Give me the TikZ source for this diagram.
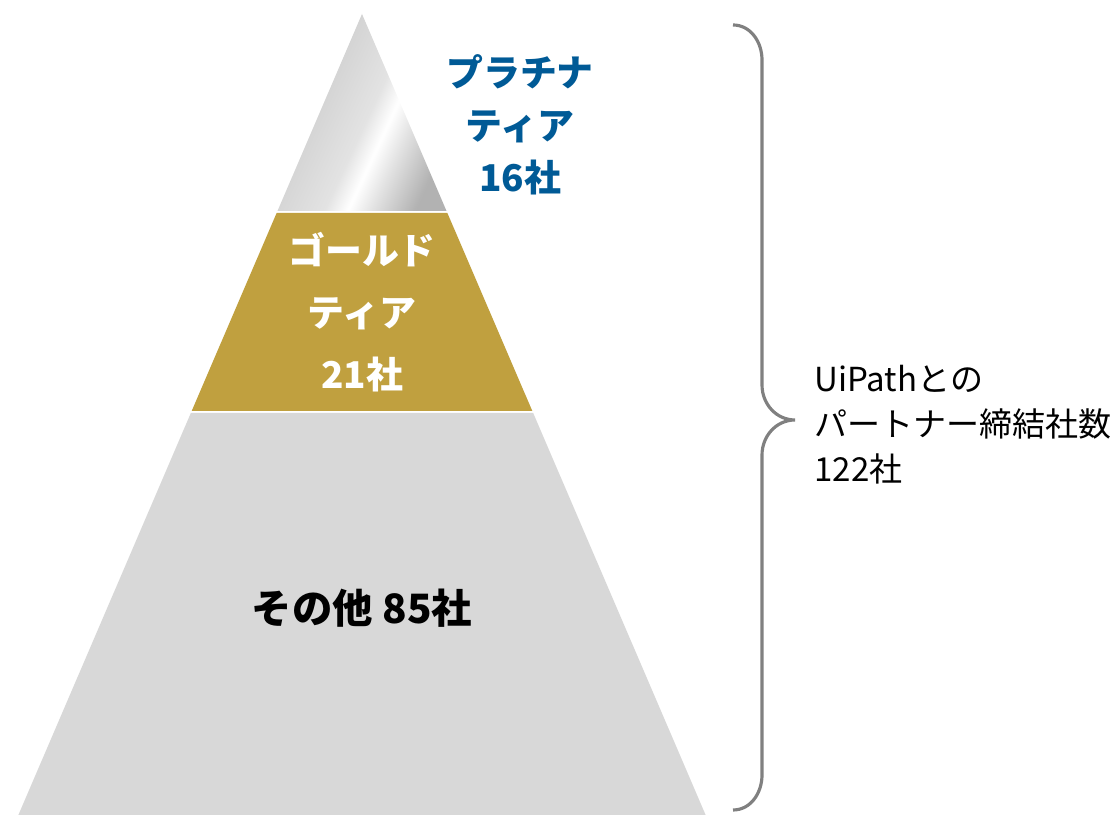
\documentclass[tikz,border=0pt]{standalone}
\usepackage{fontspec}
\setmainfont{Noto Sans CJK JP}
\usepackage{xcolor}
\definecolor{tierblue}{RGB}{0, 90, 150}
\definecolor{tiergold}{RGB}{192, 160, 63}
\definecolor{tiergray}{RGB}{216, 216, 216}
\definecolor{bracegray}{RGB}{128, 128, 128}
\pgfdeclarehorizontalshading{silver}{100bp}{color(0bp)=(gray!45); color(25bp)=(gray!45); color(52bp)=(gray!22); color(58bp)=(white); color(64bp)=(gray!22); color(75bp)=(gray!60); color(100bp)=(gray!60)}

\begin{document}
\begin{tikzpicture}
    \useasboundingbox (0,0) rectangle (11.12,8.15);
    % Parameter der Pyramide
    \def\mx{3.62}
    \def\apexy{8.01}
    \def\k{0.429}

    % ==========================================
    % UNTERE STUFE: SONSTIGE (grau)
    % ==========================================
    \fill[tiergray] ({\mx-\k*(\apexy-4.02)},4.02) -- ({\mx+\k*(\apexy-4.02)},4.02)
        -- ({\mx+\k*\apexy},0) -- ({\mx-\k*\apexy},0) -- cycle;
    \node[font=\bfseries\fontsize{11.5}{14}\selectfont] (other) at (\mx,2.07) {その他 85社};

    % ==========================================
    % MITTLERE STUFE: GOLD
    % ==========================================
    \fill[tiergold] ({\mx-\k*(\apexy-6.02)},6.02) -- ({\mx+\k*(\apexy-6.02)},6.02)
        -- ({\mx+\k*(\apexy-4.04)},4.04) -- ({\mx-\k*(\apexy-4.04)},4.04) -- cycle;
    \node[white, align=center, font=\bfseries\fontsize{10.5}{17.6}\selectfont] (gold) at (\mx,5.03)
        {ゴールド\\ティア\\21社};

    % ==========================================
    % SPITZE: PLATIN (silberner Verlauf)
    % ==========================================
    \shade[shading=silver, shading angle=-25] (\mx,\apexy) -- ({\mx+\k*(\apexy-6.04)},6.04)
        -- ({\mx-\k*(\apexy-6.04)},6.04) -- cycle;
    \node[tierblue, align=center, font=\bfseries\fontsize{10.5}{15}\selectfont] (platinum) at (5.20,6.90)
        {プラチナ\\ティア\\16社};

    % ==========================================
    % KLAMMER UND GESAMTZAHL
    % ==========================================
    \draw[bracegray, line width=0.9pt] (7.33,7.90) to[out=0,in=90] (7.62,7.55) -- (7.62,4.30)
        to[out=-90,in=180] (7.95,3.95) to[out=180,in=90] (7.62,3.60) -- (7.62,0.40)
        to[out=-90,in=0] (7.33,0.05);
    \node[anchor=west, align=left, font=\fontsize{9.4}{12.8}\selectfont] (total) at (8.02,3.90)
        {UiPathとの\\パートナー締結社数\\122社};
\end{tikzpicture}
\end{document}
